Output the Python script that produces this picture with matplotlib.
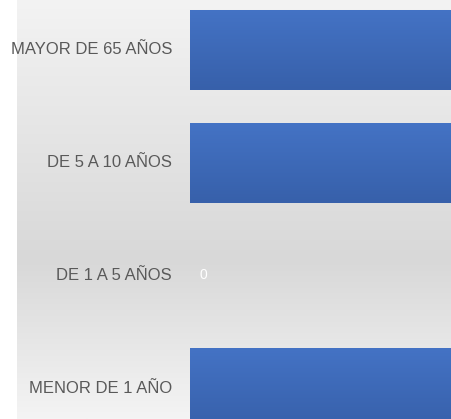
import numpy as np
import matplotlib as mpl
mpl.use('Agg')
import matplotlib.pyplot as plt
from matplotlib.colors import LinearSegmentedColormap

categorias = ['MENOR DE 1 AÑO', 'DE 1 A 5 AÑOS', 'DE 5 A 10 AÑOS', 'MAYOR DE 65 AÑOS']
valores = [12, 0, 12, 12]

fig = plt.figure(figsize=(4.52, 4.19), dpi=100)
fig.patch.set_facecolor('white')
ax = fig.add_axes([0, 0, 1, 1])
ax.axis('off')

# fondo con degradado gris
fondo = LinearSegmentedColormap.from_list('fondo', [(0, '#f3f3f3'), (0.62, '#d8d8d8'), (1, '#f4f4f4')])
grad = np.linspace(0, 1, 256).reshape(-1, 1)
ax.imshow(grad, cmap=fondo, aspect='auto', extent=(-5.28, 8, -0.275, 3.443), zorder=0,
          origin='upper')

y = np.arange(len(categorias))
barras = ax.barh(y, valores, height=0.71, color='#3f6bbd', zorder=2)

# degradado en cada barra (claro arriba, oscuro abajo)
azul = LinearSegmentedColormap.from_list('azul', ['#3760aa', '#4473c5'])
for b in barras:
    if b.get_width() == 0:
        continue
    x0, y0 = b.get_x(), b.get_y()
    im = ax.imshow(grad, cmap=azul, aspect='auto', zorder=3,
                   extent=(x0, x0 + b.get_width(), y0, y0 + b.get_height()), origin='lower')
    im.set_clip_path(b)

ax.set_xlim(-5.8, 8)
ax.set_ylim(-0.275, 3.443)

fuente = ['Liberation Sans Narrow', 'Liberation Sans', 'DejaVu Sans']
for yi, cat in zip(y, categorias):
    ax.text(-0.55, yi, cat, ha='right', va='center', fontsize=12, color='#595959',
            family=fuente, zorder=4)

for yi, v in zip(y, valores):
    if v == 0:
        ax.text(0.3, yi, str(v), ha='left', va='center', fontsize=10, color='white',
                family=fuente, zorder=4)

plt.savefig('out.png', dpi=100)
plt.close('all')
